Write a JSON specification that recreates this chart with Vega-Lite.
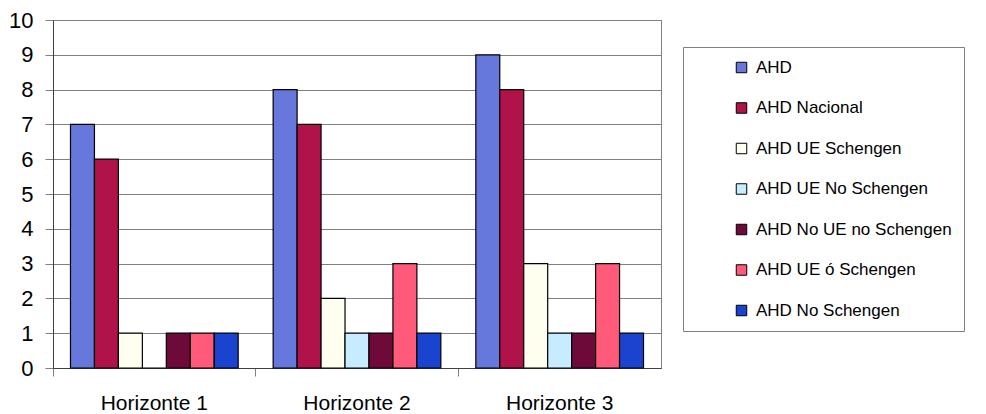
{
  "$schema": "https://vega.github.io/schema/vega-lite/v6.json",
  "autosize": "none",
  "width": 608,
  "height": 348,
  "padding": {"left": 53, "top": 20, "right": 325, "bottom": 46},
  "background": "white",
  "config": {
    "font": "Liberation Sans",
    "view": {"stroke": "#808080", "strokeWidth": 1}
  },
  "data": {
    "values": [
      {"h": "Horizonte 1", "s": "AHD", "v": 7},
      {"h": "Horizonte 1", "s": "AHD Nacional", "v": 6},
      {"h": "Horizonte 1", "s": "AHD UE Schengen", "v": 1},
      {"h": "Horizonte 1", "s": "AHD UE No Schengen", "v": 0},
      {"h": "Horizonte 1", "s": "AHD No UE no Schengen", "v": 1},
      {"h": "Horizonte 1", "s": "AHD UE ó Schengen", "v": 1},
      {"h": "Horizonte 1", "s": "AHD No Schengen", "v": 1},
      {"h": "Horizonte 2", "s": "AHD", "v": 8},
      {"h": "Horizonte 2", "s": "AHD Nacional", "v": 7},
      {"h": "Horizonte 2", "s": "AHD UE Schengen", "v": 2},
      {"h": "Horizonte 2", "s": "AHD UE No Schengen", "v": 1},
      {"h": "Horizonte 2", "s": "AHD No UE no Schengen", "v": 1},
      {"h": "Horizonte 2", "s": "AHD UE ó Schengen", "v": 3},
      {"h": "Horizonte 2", "s": "AHD No Schengen", "v": 1},
      {"h": "Horizonte 3", "s": "AHD", "v": 9},
      {"h": "Horizonte 3", "s": "AHD Nacional", "v": 8},
      {"h": "Horizonte 3", "s": "AHD UE Schengen", "v": 3},
      {"h": "Horizonte 3", "s": "AHD UE No Schengen", "v": 1},
      {"h": "Horizonte 3", "s": "AHD No UE no Schengen", "v": 1},
      {"h": "Horizonte 3", "s": "AHD UE ó Schengen", "v": 3},
      {"h": "Horizonte 3", "s": "AHD No Schengen", "v": 1}
    ]
  },
  "mark": {"type": "bar", "stroke": "black", "strokeWidth": 1.2},
  "encoding": {
    "x": {
      "field": "h",
      "type": "nominal",
      "title": null,
      "scale": {"paddingInner": 0, "paddingOuter": 0},
      "axis": {
        "labelAngle": 0,
        "labelFontSize": 21,
        "labelColor": "black",
        "labelPadding": 16,
        "tickSize": 8,
        "tickColor": "#808080",
        "bandPosition": 0,
        "domainColor": "#404040",
        "grid": false
      }
    },
    "xOffset": {
      "field": "s",
      "type": "nominal",
      "sort": ["AHD", "AHD Nacional", "AHD UE Schengen", "AHD UE No Schengen", "AHD No UE no Schengen", "AHD UE ó Schengen", "AHD No Schengen"],
      "scale": {"paddingInner": 0, "paddingOuter": 0.73}
    },
    "y": {
      "field": "v",
      "type": "quantitative",
      "title": null,
      "scale": {"domain": [0, 10], "nice": false},
      "axis": {
        "values": [0, 1, 2, 3, 4, 5, 6, 7, 8, 9, 10],
        "labelFontSize": 22,
        "labelColor": "black",
        "labelPadding": 12,
        "tickSize": 8,
        "tickColor": "#808080",
        "gridColor": "#808080",
        "domainColor": "#404040"
      }
    },
    "color": {
      "field": "s",
      "type": "nominal",
      "sort": ["AHD", "AHD Nacional", "AHD UE Schengen", "AHD UE No Schengen", "AHD No UE no Schengen", "AHD UE ó Schengen", "AHD No Schengen"],
      "scale": {
        "domain": ["AHD", "AHD Nacional", "AHD UE Schengen", "AHD UE No Schengen", "AHD No UE no Schengen", "AHD UE ó Schengen", "AHD No Schengen"],
        "range": ["#6678dc", "#b0124a", "#fffff0", "#c8ecff", "#6e0a3a", "#ff5a7a", "#1a44d0"]
      },
      "legend": {
        "title": null,
        "orient": "none",
        "legendX": 630,
        "legendY": 27,
        "padding": 12,
        "strokeColor": "#808080",
        "fillColor": "white",
        "symbolType": "square",
        "symbolSize": 110,
        "symbolStrokeColor": "black",
        "symbolStrokeWidth": 1,
        "symbolOffset": 38,
        "labelFontSize": 17,
        "labelColor": "black",
        "labelOffset": 6,
        "labelLimit": 300,
        "rowPadding": 22.5
      }
    }
  }
}
